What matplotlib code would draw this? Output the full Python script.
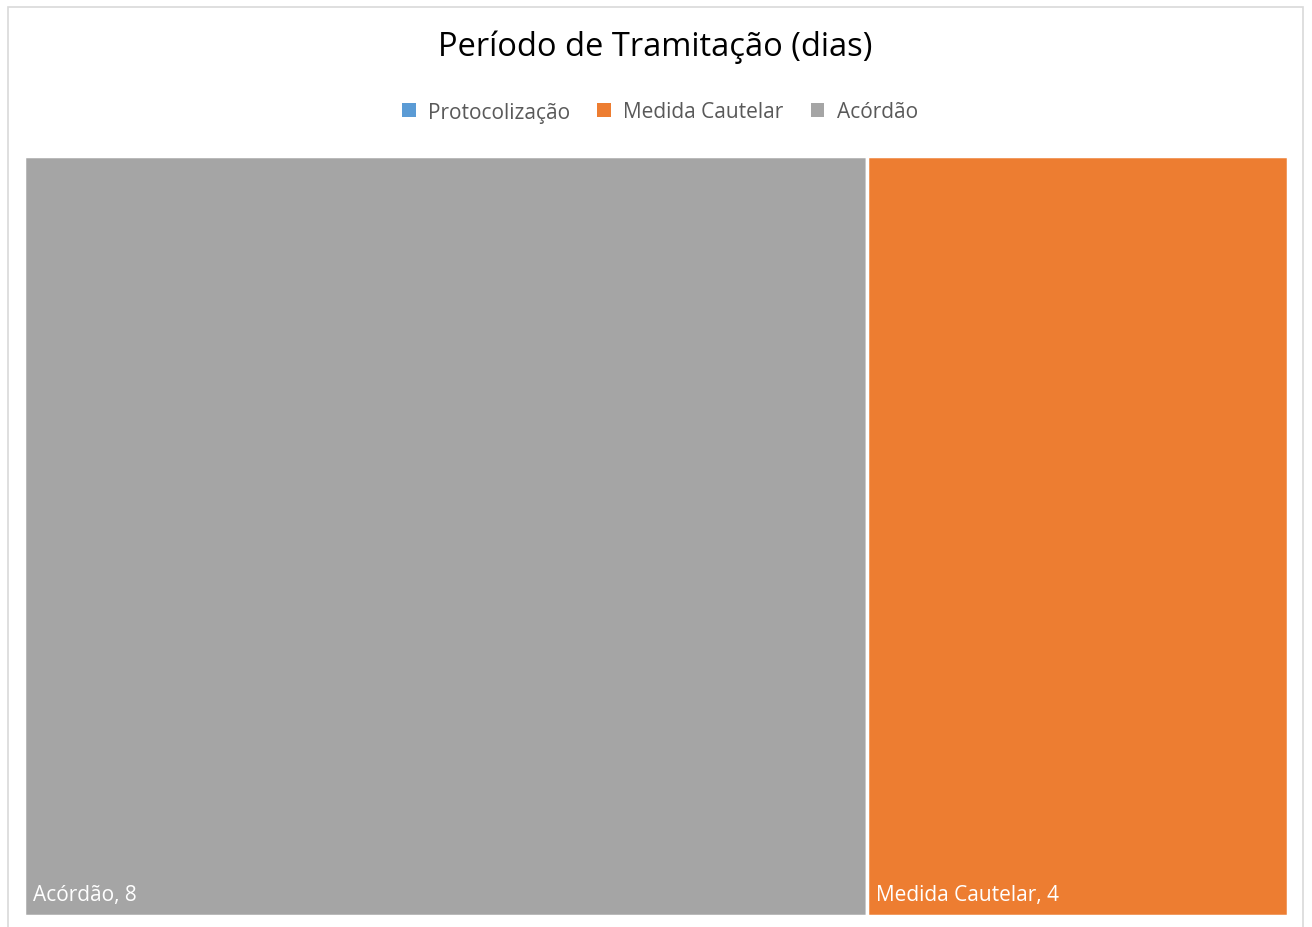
import matplotlib.pyplot as plt
from matplotlib.patches import Rectangle

# dados
categorias = ['Protocolização', 'Medida Cautelar', 'Acórdão']
dias = [0, 4, 8]
cores = ['#5b9bd5', '#ed7d31', '#a5a5a5']

W, H = 1312, 928
fig = plt.figure(figsize=(W / 100, H / 100), dpi=100)
plt.rcParams['font.family'] = ['Open Sans', 'DejaVu Sans']

# moldura do gráfico
fig.patches.append(Rectangle((8 / W, -0.01), (1303 - 8) / W, (H - 8) / H + 0.01,
                             transform=fig.transFigure, fill=False,
                             edgecolor='#d9d9d9', linewidth=1.2))

fig.text(655 / W, 1 - 47 / H, 'Período de Tramitação (dias)', ha='center', va='center',
         fontsize=23.5, color='black')

# área do treemap
x0, x1, y0, y1 = 24, 1288, 157, 917
ax = fig.add_axes([x0 / W, 1 - y1 / H, (x1 - x0) / W, (y1 - y0) / H])
total = sum(dias)
ax.set_xlim(0, total)
ax.set_ylim(0, 1)
ax.axis('off')

ordem = sorted(range(len(dias)), key=lambda i: -dias[i])
pos = 0
for i in ordem:
    if dias[i] <= 0:
        continue
    ax.add_patch(Rectangle((pos, 0), dias[i], 1, facecolor=cores[i],
                           edgecolor='white', linewidth=2.5))
    ax.annotate(f'{categorias[i]}, {dias[i]}', xy=(pos, 0), xytext=(9, 11),
                textcoords='offset pixels', ha='left', va='bottom',
                color='white', fontsize=15)
    pos += dias[i]

handles = [Rectangle((0, 0), 1, 1, facecolor=c, edgecolor='none') for c in cores]
fig.legend(handles, categorias, loc='center', bbox_to_anchor=(660 / W, 1 - 113 / H),
           ncol=3, frameon=False, fontsize=15, handlelength=0.65, handleheight=0.65,
           handletextpad=0.6, columnspacing=1.3, labelcolor='#595959')

fig.savefig('out.png', dpi=100)
